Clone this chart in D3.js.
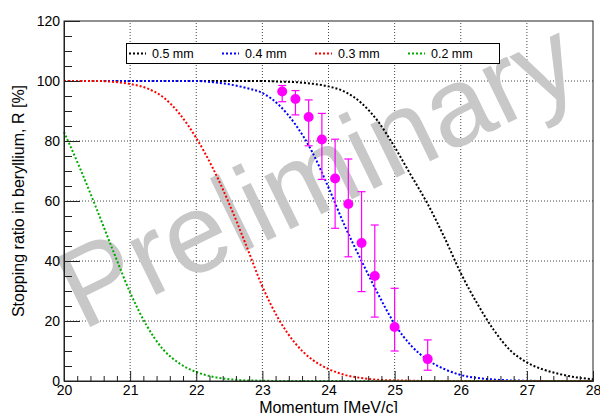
<!DOCTYPE html>
<html>
<head>
<meta charset="utf-8">
<script src="https://cdn.jsdelivr.net/npm/d3@7"></script>
<style>
  body { margin: 0; background: #fff; }
  svg { display: block; font-family: "Liberation Sans", Arial, Helvetica, sans-serif; }
</style>
</head>
<body>
<svg id="chart" width="600" height="413"></svg>
<script>
// momentum grid the curves were read on (MeV/c)
const momentum = [20, 20.25, 20.5, 20.75, 21, 21.25, 21.5, 21.75, 22, 22.25, 22.5, 22.75,
    23, 23.25, 23.5, 23.75, 24, 24.25, 24.5, 24.75, 25, 25.25, 25.5, 25.75,
    26, 26.25, 26.5, 26.75, 27, 27.25, 27.5, 27.75, 28];

// stopping ratio R [%] for each target thickness
const r05mm = [100, 100, 100, 100, 100, 100, 100, 100, 100, 100, 100, 100,
    100, 99.8, 99.6, 99.1, 98.2, 96.4, 92.6, 86.5, 78, 68.5, 59, 48,
    36, 25.8, 17, 10.2, 6.2, 3.8, 2.3, 1.2, 0.6];
const r04mm = [100, 100, 100, 100, 100, 100, 100, 100, 100, 99.6, 98.9, 97.7,
    96, 92, 85.5, 76.5, 64.5, 51.5, 40, 29, 19, 11.8, 7, 4,
    2, 1, 0.5, 0.2, 0.1, 0, 0, 0, 0];
const r03mm = [100, 100, 100, 99.7, 99, 97.6, 94.6, 89, 81, 71, 59, 45.5,
    31.5, 20.5, 12.5, 7.2, 4, 2, 1, 0.4, 0.2, 0.1, 0, 0,
    0, 0, 0, 0, 0, 0, 0, 0, 0];
const r02mm = [83, 70.5, 57, 43, 29.5, 18.5, 10.5, 5.8, 3, 1.4, 0.6, 0.2,
    0.1, 0, 0, 0, 0, 0, 0, 0, 0, 0, 0, 0,
    0, 0, 0, 0, 0, 0, 0, 0, 0];

const seriesNames = ['0.5 mm', '0.4 mm', '0.3 mm', '0.2 mm'];
const seriesColors = ['#000000', '#0000ff', '#ff0000', '#00aa00'];

// measured points with asymmetric error bars
const dataP = [23.3, 23.5, 23.7, 23.9, 24.1, 24.3, 24.5, 24.7, 25.0, 25.5];
const dataR = [96.5, 94, 88, 80.5, 67.5, 59, 46, 35, 18, 7.3];
const dataHi = [98.5, 96.8, 93.7, 89.2, 80.6, 74, 63.1, 52, 30.9, 13.7];
const dataLo = [93.1, 88.7, 78.4, 67.2, 50.9, 41.4, 29.8, 21.3, 10, 3.6];

const xTicks = [20, 21, 22, 23, 24, 25, 26, 27, 28];
const yTicks = [0, 20, 40, 60, 80, 100, 120];

const svg = d3.select('#chart');
const margin = { top: 21, right: 7, bottom: 32, left: 64 };
const width = +svg.attr('width');
const height = +svg.attr('height');

const x = d3.scaleLinear().domain([20, 28]).range([margin.left, width - margin.right]);
const y = d3.scaleLinear().domain([0, 120]).range([height - margin.bottom, margin.top]);

// grid
const grid = svg.append('g')
    .attr('stroke', '#333')
    .attr('stroke-width', 0.9)
    .attr('stroke-dasharray', '1,2');

grid.selectAll('line.gx')
    .data(xTicks.slice(1, -1))
    .enter()
    .append('line')
    .attr('x1', d => x(d)).attr('x2', d => x(d))
    .attr('y1', y(0)).attr('y2', y(120));

grid.selectAll('line.gy')
    .data(yTicks.slice(1, -1))
    .enter()
    .append('line')
    .attr('x1', x(20)).attr('x2', x(28))
    .attr('y1', d => y(d)).attr('y2', d => y(d));

// watermark
svg.append('text')
    .attr('transform', 'translate(82,331) rotate(-26)')
    .attr('font-size', 112)
    .attr('fill', '#c8c8c8')
    .text('Preliminary');

// curves
const curveLine = d3.line()
    .x((d, i) => x(momentum[i]))
    .y(d => y(d))
    .curve(d3.curveMonotoneX);

const curves = [r05mm, r04mm, r03mm, r02mm];

svg.append('g')
    .selectAll('path')
    .data(curves)
    .enter()
    .append('path')
    .attr('d', d => curveLine(d))
    .attr('fill', 'none')
    .attr('stroke', (d, i) => seriesColors[i])
    .attr('stroke-width', 2)
    .attr('stroke-dasharray', '2,2');

// data points
const points = dataP.map((p, i) => ({ p, r: dataR[i], hi: dataHi[i], lo: dataLo[i] }));
const pts = svg.append('g')
    .attr('stroke', '#ff00ff')
    .attr('stroke-width', 1.2);

pts.selectAll('line.bar')
    .data(points)
    .enter()
    .append('line')
    .attr('x1', d => x(d.p)).attr('x2', d => x(d.p))
    .attr('y1', d => y(d.hi)).attr('y2', d => y(d.lo));

pts.selectAll('line.capHi')
    .data(points)
    .enter()
    .append('line')
    .attr('x1', d => x(d.p) - 4).attr('x2', d => x(d.p) + 4)
    .attr('y1', d => y(d.hi)).attr('y2', d => y(d.hi));

pts.selectAll('line.capLo')
    .data(points)
    .enter()
    .append('line')
    .attr('x1', d => x(d.p) - 4).attr('x2', d => x(d.p) + 4)
    .attr('y1', d => y(d.lo)).attr('y2', d => y(d.lo));

pts.selectAll('circle')
    .data(points)
    .enter()
    .append('circle')
    .attr('cx', d => x(d.p))
    .attr('cy', d => y(d.r))
    .attr('r', 5)
    .attr('fill', '#ff00ff')
    .attr('stroke', 'none');

// frame
svg.append('rect')
    .attr('x', x(20))
    .attr('y', y(120))
    .attr('width', x(28) - x(20))
    .attr('height', y(0) - y(120))
    .attr('fill', 'none')
    .attr('stroke', '#222')
    .attr('stroke-width', 1);

// axes
const xMinor = d3.range(0, 41).map(i => 20 + i * 0.2).filter(v => Math.abs(v - Math.round(v)) > 1e-6);
const yMinor = d3.range(0, 25).map(i => i * 5).filter(v => v % 20 !== 0);

svg.append('g')
    .attr('transform', `translate(0,${y(0)})`)
    .call(d3.axisBottom(x).tickValues(xTicks).tickFormat(d3.format('d')).tickSize(-10).tickPadding(4));
svg.append('g')
    .attr('transform', `translate(0,${y(0)})`)
    .call(d3.axisBottom(x).tickValues(xMinor).tickFormat('').tickSize(-5))
    .call(g => g.select('.domain').remove());

svg.append('g')
    .attr('transform', `translate(${x(20)},0)`)
    .call(d3.axisLeft(y).tickValues(yTicks).tickFormat(d3.format('d')).tickSize(-16).tickPadding(4));
svg.append('g')
    .attr('transform', `translate(${x(20)},0)`)
    .call(d3.axisLeft(y).tickValues(yMinor).tickFormat('').tickSize(-8))
    .call(g => g.select('.domain').remove());

svg.selectAll('.tick line').attr('stroke', '#222');
svg.selectAll('.domain').attr('stroke', '#222');
svg.selectAll('.tick text')
    .attr('font-family', '"Liberation Sans", Arial, sans-serif')
    .attr('font-size', 14)
    .attr('fill', '#000');

// axis titles
svg.append('text')
    .attr('x', (x(20) + x(28)) / 2)
    .attr('y', 413)
    .attr('text-anchor', 'middle')
    .attr('font-size', 16)
    .text('Momentum [MeV/c]');

svg.append('text')
    .attr('transform', `translate(24,${(y(0) + y(120)) / 2}) rotate(-90)`)
    .attr('text-anchor', 'middle')
    .attr('font-size', 16)
    .text('Stopping ratio in beryllium, R [%]');

// legend
const legend = svg.append('g');
legend.append('rect')
    .attr('x', 126.5).attr('y', 43.5)
    .attr('width', 373).attr('height', 20)
    .attr('fill', '#fff')
    .attr('stroke', '#000')
    .attr('stroke-width', 1);

const entry = legend.selectAll('g.entry')
    .data(seriesNames)
    .enter()
    .append('g')
    .attr('transform', (d, i) => `translate(${129 + i * 93},53.5)`);

entry.append('line')
    .attr('x1', 0).attr('x2', 17)
    .attr('stroke', (d, i) => seriesColors[i])
    .attr('stroke-width', 2)
    .attr('stroke-dasharray', '2,2');

entry.append('text')
    .attr('x', 23)
    .attr('y', 4.5)
    .attr('font-size', 12.5)
    .text(d => d);
</script>
</body>
</html>
